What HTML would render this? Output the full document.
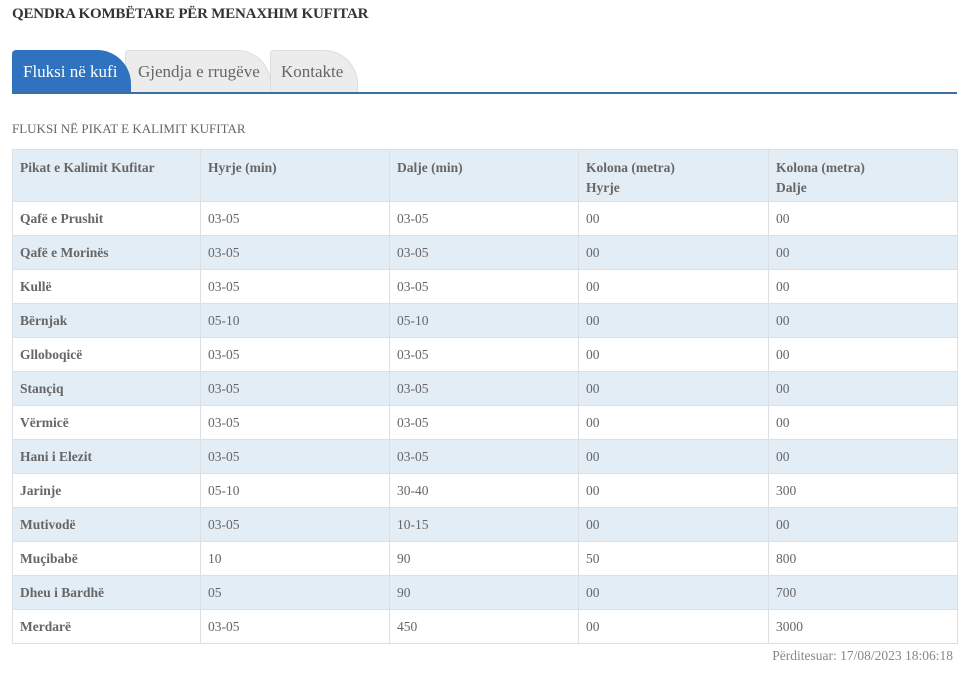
<!DOCTYPE html>
<html><head><meta charset="utf-8"><style>
body{margin:0;width:980px;height:676px;background:#fff;font-family:"Liberation Serif","DejaVu Serif",serif;color:#555;position:relative;overflow:hidden}
.t{position:absolute;left:12px;top:6px;font-size:15px;font-weight:bold;color:#333;letter-spacing:-0.2px}
.tabs{position:absolute;left:12px;top:50px;width:945px;height:42px;border-bottom:2px solid #3a6f9e}
.tab{position:absolute;top:0;height:42px;border-radius:4px 34px 0 0;font-size:17px;line-height:42px;padding-left:10px;box-sizing:border-box;background:#ececec;border:1px solid #ddd;border-bottom:none;color:#666}
.a{background:#2f72c0;color:#fff;border-color:#2f72c0;z-index:3}
.s{position:absolute;left:12px;top:121px;font-size:13px;color:#666}
table{position:absolute;left:12px;top:149px;width:945px;border-collapse:collapse;font-size:13.5px;table-layout:fixed}
td{border:1px solid #dcdfe3;height:33px;padding:0 7px;color:#666;vertical-align:middle}
tr:nth-child(odd) td{background:#e3edf6}
tr:nth-child(even) td{background:#fff}
tr.h td{height:43px;vertical-align:top;padding-top:8px;padding-bottom:0;line-height:20px;font-weight:bold;background:#e3edf6;color:#666}
td:first-child{font-weight:bold}
.f{position:absolute;right:27px;top:648px;font-size:13.5px;color:#888}
</style></head><body>
<div class="t">QENDRA KOMBËTARE PËR MENAXHIM KUFITAR</div>
<div class="tabs">
<div class="tab a" style="left:0;width:119px">Fluksi në kufi</div>
<div class="tab" style="left:113px;width:146px;padding-left:12px">Gjendja e rrugëve</div>
<div class="tab" style="left:258px;width:88px;padding-left:10px">Kontakte</div>
</div>
<div class="s">FLUKSI NË PIKAT E KALIMIT KUFITAR</div>
<table>
<col style="width:188px"><col style="width:189px"><col style="width:189px"><col style="width:190px"><col style="width:189px">
<tr class="h"><td>Pikat e Kalimit Kufitar</td><td>Hyrje (min)</td><td>Dalje (min)</td><td>Kolona (metra)<br>Hyrje</td><td>Kolona (metra)<br>Dalje</td></tr>
<tr><td>Qafë e Prushit</td><td>03-05</td><td>03-05</td><td>00</td><td>00</td></tr>
<tr><td>Qafë e Morinës</td><td>03-05</td><td>03-05</td><td>00</td><td>00</td></tr>
<tr><td>Kullë</td><td>03-05</td><td>03-05</td><td>00</td><td>00</td></tr>
<tr><td>Bërnjak</td><td>05-10</td><td>05-10</td><td>00</td><td>00</td></tr>
<tr><td>Glloboqicë</td><td>03-05</td><td>03-05</td><td>00</td><td>00</td></tr>
<tr><td>Stançiq</td><td>03-05</td><td>03-05</td><td>00</td><td>00</td></tr>
<tr><td>Vërmicë</td><td>03-05</td><td>03-05</td><td>00</td><td>00</td></tr>
<tr><td>Hani i Elezit</td><td>03-05</td><td>03-05</td><td>00</td><td>00</td></tr>
<tr><td>Jarinje</td><td>05-10</td><td>30-40</td><td>00</td><td>300</td></tr>
<tr><td>Mutivodë</td><td>03-05</td><td>10-15</td><td>00</td><td>00</td></tr>
<tr><td>Muçibabë</td><td>10</td><td>90</td><td>50</td><td>800</td></tr>
<tr><td>Dheu i Bardhë</td><td>05</td><td>90</td><td>00</td><td>700</td></tr>
<tr><td>Merdarë</td><td>03-05</td><td>450</td><td>00</td><td>3000</td></tr>
</table>
<div class="f">Përditesuar: 17/08/2023 18:06:18</div>
</body></html>
